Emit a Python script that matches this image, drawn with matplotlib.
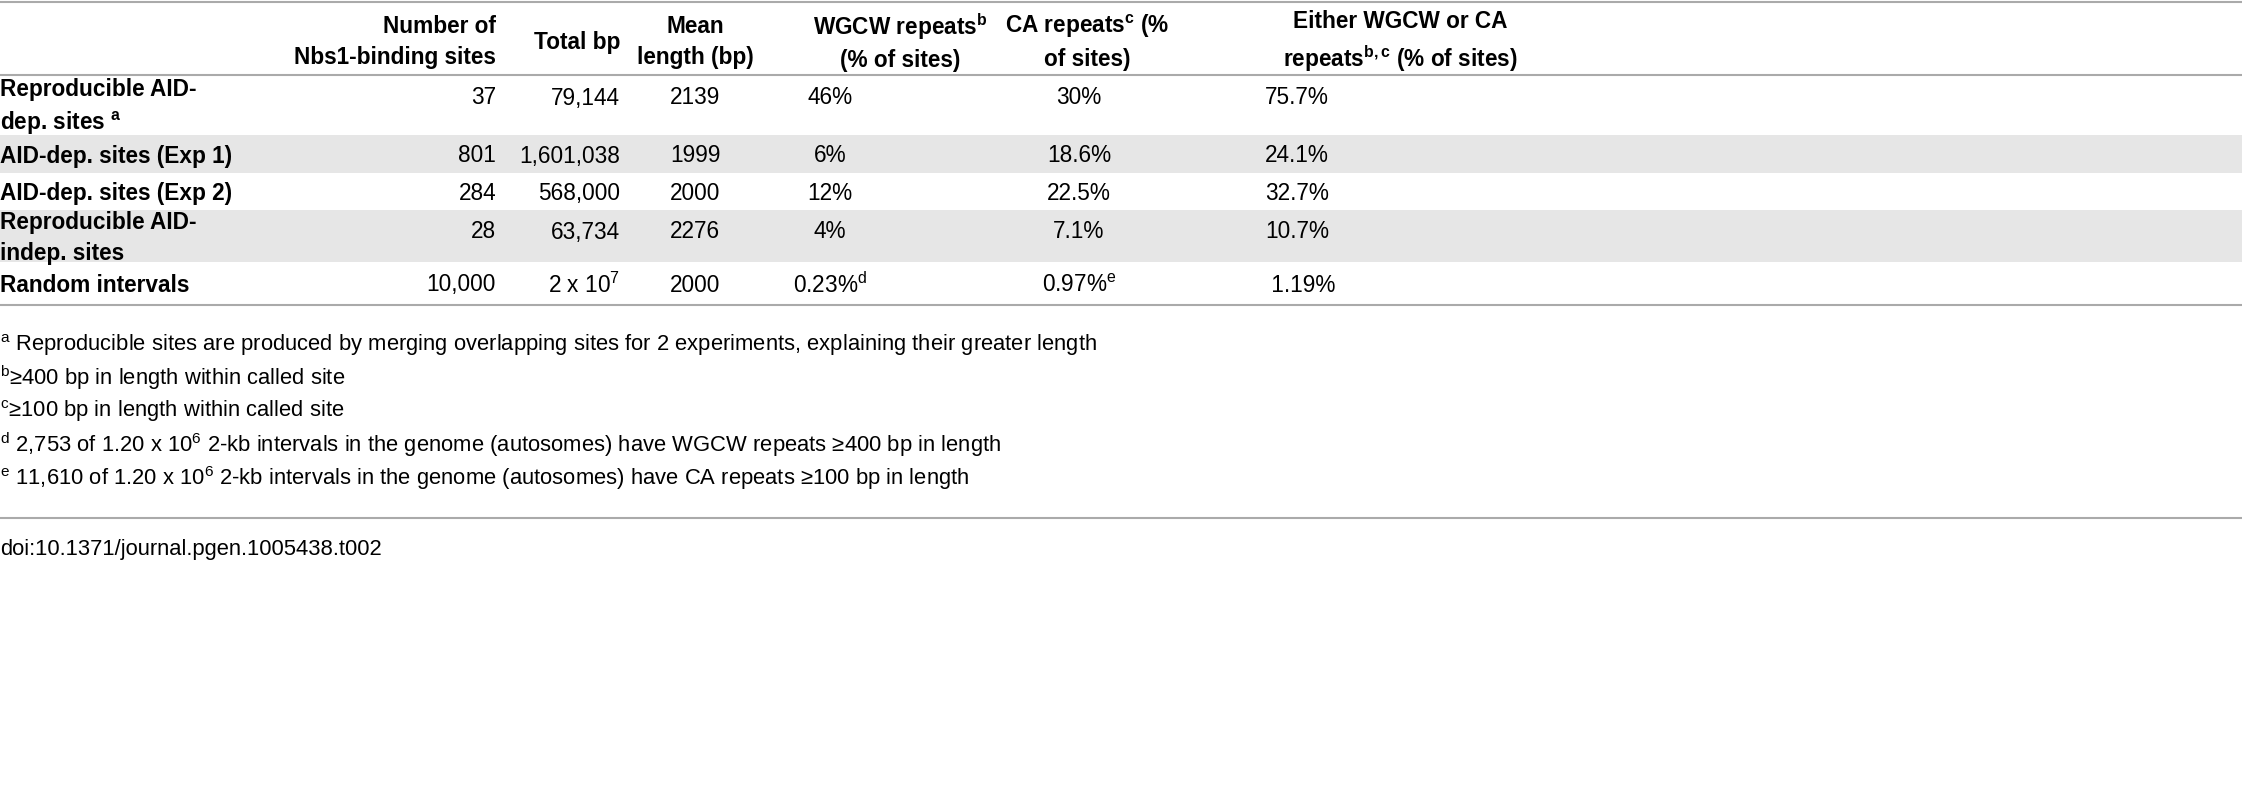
import matplotlib
matplotlib.use("Agg")
import matplotlib.pyplot as plt
from matplotlib.patches import Rectangle

plt.rcParams['font.family'] = ['Liberation Sans', 'DejaVu Sans']
plt.rcParams['mathtext.fontset'] = 'custom'
plt.rcParams['mathtext.rm'] = 'Liberation Sans'
plt.rcParams['mathtext.it'] = 'Liberation Sans'
plt.rcParams['mathtext.bf'] = 'Liberation Sans:bold'

headers = ["Number of\nNbs1-binding sites", "Total bp", "Mean\nlength (bp)",
           r"WGCW repeats$^{\mathbf{b}}$" + "\n(% of sites)",
           r"CA repeats$^{\mathbf{c}}$ (%" + "\nof sites)",
           "Either WGCW or CA\n" + r"repeats$^{\mathbf{b,c}}$ (% of sites)"]
row_labels = ["Reproducible AID-\ndep. sites " + r"$^{\mathbf{a}}$", "AID-dep. sites (Exp 1)",
              "AID-dep. sites (Exp 2)", "Reproducible AID-\nindep. sites", "Random intervals"]
n_sites = ["37", "801", "284", "28", "10,000"]
total_bp = ["79,144", "1,601,038", "568,000", "63,734", r"2 x 10$^{7}$"]
mean_len = ["2139", "1999", "2000", "2276", "2000"]
wgcw = ["46%", "6%", "12%", "4%", r"0.23%$^{\mathrm{d}}$"]
ca = ["30%", "18.6%", "22.5%", "7.1%", r"0.97%$^{\mathrm{e}}$"]
either = ["75.7%", "24.1%", "32.7%", "10.7%", " 1.19%"]
footnotes = [r"$^{\mathrm{a}}$ Reproducible sites are produced by merging overlapping sites for 2 experiments, explaining their greater length",
             r"$^{\mathrm{b}}$≥400 bp in length within called site",
             r"$^{\mathrm{c}}$≥100 bp in length within called site",
             r"$^{\mathrm{d}}$ 2,753 of 1.20 x 10$^{6}$ 2-kb intervals in the genome (autosomes) have WGCW repeats ≥400 bp in length",
             r"$^{\mathrm{e}}$ 11,610 of 1.20 x 10$^{6}$ 2-kb intervals in the genome (autosomes) have CA repeats ≥100 bp in length"]
doi = "doi:10.1371/journal.pgen.1005438.t002"

fig = plt.figure(figsize=(22.42, 8), dpi=100)
ax = fig.add_axes([0, 0, 1, 1])
ax.set_xlim(0, 2242); ax.set_ylim(800, 0); ax.axis('off')

fs = 16.3
lc = '#aaaaaa'
for y in (2, 75, 305, 518):
    ax.plot([0, 2242], [y, y], color=lc, lw=1.5)

row_bounds = [(76, 135), (135, 173), (173, 210), (210, 262), (262, 304)]
for i, (y0, y1) in enumerate(row_bounds):
    if i % 2 == 1:
        ax.add_patch(Rectangle((0, y0), 2242, y1 - y0, color='#e6e6e6', lw=0))

hx = [(496, 'right'), (620, 'right'), (695, 'center'), (900, 'center'), (1087, 'center'), (1400, 'center')]
for h, (x, ha) in zip(headers, hx):
    ax.text(x, 42, h, ha=ha, va='center', fontsize=fs, fontweight='bold', linespacing=1.4,
            multialignment='center' if ha == 'center' else 'right')

cols = [(n_sites, 496, 'right'), (total_bp, 620, 'right'), (mean_len, 695, 'center'),
        (wgcw, 830, 'center'), (ca, 1079, 'center'), (either, 1265, 'left')]
for i, (y0, y1) in enumerate(row_bounds):
    yc = (y0 + y1) / 2 + 2
    ax.text(0, yc, row_labels[i], ha='left', va='center', fontsize=fs, fontweight='bold', linespacing=1.4)
    for vals, x, ha in cols:
        yy = y0 + 22 if i in (0, 3) else yc
        ax.text(x, yy, vals[i], ha=ha, va='center', fontsize=fs)

fy = [345, 378, 411, 445, 478]
for t, y in zip(footnotes, fy):
    ax.text(0, y, t, ha='left', va='center', fontsize=fs - 0.5)
ax.text(0, 550, doi, ha='left', va='center', fontsize=fs - 0.5)

fig.savefig("out.png", dpi=100)
